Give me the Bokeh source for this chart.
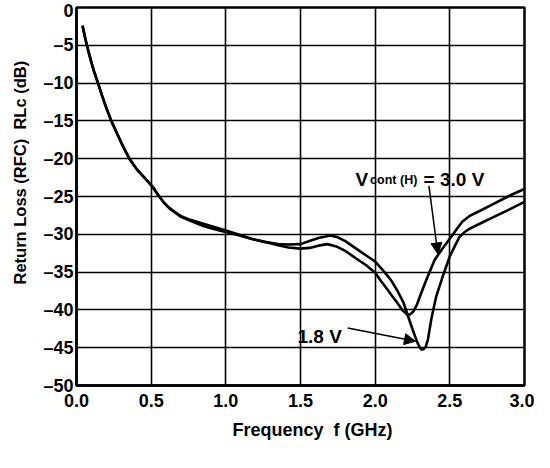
from bokeh.plotting import figure
from bokeh.models import FixedTicker, Range1d, Label, Arrow, NormalHead, Title
from bokeh.embed import file_html
from bokeh.resources import INLINE

# Vcont(H) = 3.0 V
freq_30 = [0.04, 0.06, 0.08, 0.10, 0.12, 0.144, 0.17, 0.20, 0.233, 0.27, 0.31, 0.354,
           0.40, 0.45, 0.487, 0.52, 0.55, 0.585, 0.62, 0.66, 0.70, 0.75, 0.80, 0.85,
           0.90, 0.95, 1.0, 1.08, 1.17, 1.26, 1.35, 1.42, 1.5, 1.56, 1.62, 1.68, 1.74,
           1.80, 1.88, 1.94, 2.0, 2.04, 2.082, 2.115, 2.148, 2.185, 2.213, 2.235, 2.256,
           2.28, 2.30, 2.343, 2.398, 2.45, 2.507, 2.55, 2.585, 2.63, 2.696, 2.77, 2.85,
           2.92, 3.0]
rl_30 = [-2.4, -4.2, -5.8, -7.3, -8.6, -10.0, -11.6, -13.3, -15.0, -16.6, -18.3, -20.0,
         -21.3, -22.4, -23.2, -24.0, -24.9, -25.8, -26.5, -27.1, -27.6, -28.0, -28.3, -28.6,
         -28.9, -29.2, -29.5, -30.0, -30.6, -31.0, -31.45, -31.75, -31.9, -31.8, -31.5, -31.3, -31.6,
         -32.2, -33.3, -34.1, -35.1, -36.2, -37.3, -38.2, -39.05, -40.1, -40.6, -40.6, -40.2,
         -39.3, -38.2, -36.0, -33.4, -31.9, -30.4, -29.2, -28.3, -27.6, -26.95, -26.2, -25.4,
         -24.7, -24.0]

# 1.8 V
freq_18 = [0.04, 0.06, 0.08, 0.10, 0.12, 0.144, 0.17, 0.20, 0.233, 0.27, 0.31, 0.354,
           0.40, 0.45, 0.487, 0.52, 0.55, 0.585, 0.62, 0.66, 0.70, 0.75, 0.80, 0.85,
           0.90, 0.95, 1.0, 1.08, 1.17, 1.26, 1.35, 1.42, 1.5, 1.56, 1.62, 1.70, 1.75,
           1.80, 1.88, 1.94, 2.0, 2.05, 2.104, 2.15, 2.19, 2.235, 2.278, 2.298, 2.311,
           2.325, 2.34, 2.354, 2.376, 2.409, 2.452, 2.50, 2.535, 2.563, 2.60, 2.629, 2.70,
           2.785, 2.89, 3.0]
rl_18 = [-2.4, -4.2, -5.8, -7.3, -8.6, -10.0, -11.6, -13.3, -15.0, -16.6, -18.3, -20.0,
         -21.3, -22.4, -23.2, -24.0, -24.9, -25.8, -26.5, -27.1, -27.7, -28.1, -28.5, -28.9,
         -29.2, -29.45, -29.7, -30.1, -30.6, -31.0, -31.3, -31.35, -31.3, -30.9, -30.5, -30.15, -30.4,
         -30.9, -32.0, -32.8, -33.6, -34.7, -36.0, -37.5, -39.05, -41.7, -44.1, -44.95, -45.25,
         -45.2, -44.8, -43.85, -41.2, -38.2, -35.6, -32.9, -31.5, -30.4, -29.7, -29.3, -28.6,
         -27.8, -26.8, -25.7]

x_ticks = [0.0, 0.5, 1.0, 1.5, 2.0, 2.5, 3.0]
x_tick_labels = ["0.0", "0.5", "1.0", "1.5", "2.0", "2.5", "3.0"]
y_ticks = [0, -5, -10, -15, -20, -25, -30, -35, -40, -45, -50]
y_tick_labels = ["0", "\u20135", "\u201310", "\u201315", "\u201320", "\u201325", "\u201330",
                 "\u201335", "\u201340", "\u201345", "\u201350"]

FONT = "Liberation Sans"
NB = "\u00a0"
x_title = "Frequency" + NB + NB + "f (GHz)"
y_title = "Return Loss (RFC)" + NB + NB + "RLc (dB)"

p = figure(width=534, height=452, x_range=Range1d(0, 3), y_range=Range1d(-50, 0),
           output_backend="svg", toolbar_location=None,
           min_border_left=72, min_border_top=7, min_border_right=10, min_border_bottom=67)

p.background_fill_color = "white"
p.border_fill_color = "white"
p.outline_line_color = "black"
p.outline_line_width = 2.5

p.xaxis.ticker = FixedTicker(ticks=x_ticks)
p.yaxis.ticker = FixedTicker(ticks=y_ticks)
p.xaxis.major_label_overrides = {t: s for t, s in zip(x_ticks, x_tick_labels)}
p.yaxis.major_label_overrides = {t: s for t, s in zip(y_ticks, y_tick_labels)}

for ax in (p.xaxis, p.yaxis):
    ax.major_tick_out = 0
    ax.major_tick_in = 0
    ax.minor_tick_out = 0
    ax.minor_tick_in = 0
    ax.axis_line_color = "black"
    ax.axis_line_width = 2.5
    ax.major_label_text_font = FONT
    ax.major_label_text_font_size = "18px"
    ax.major_label_text_font_style = "bold"
    ax.major_label_text_color = "black"

p.xaxis.major_label_standoff = 8
p.yaxis.major_label_standoff = 3

# axis titles as side titles, placed off-centre as in the original
p.add_layout(Title(text=x_title, align="left", offset=156, standoff=17,
                   text_font=FONT, text_font_size="18px", text_font_style="bold",
                   text_color="black"), "below")
p.add_layout(Title(text=y_title, align="left", offset=101, standoff=20,
                   vertical_align="top",
                   text_font=FONT, text_font_size="16.5px", text_font_style="bold",
                   text_color="black"), "left")

p.xgrid.ticker = FixedTicker(ticks=x_ticks)
p.ygrid.ticker = FixedTicker(ticks=y_ticks)
for g in (p.xgrid, p.ygrid):
    g.grid_line_color = "black"
    g.grid_line_width = 1.6
    g.grid_line_alpha = 1.0

p.line(freq_30, rl_30, line_color="black", line_width=2.6, line_join="round")
p.line(freq_18, rl_18, line_color="black", line_width=2.6, line_join="round")

# annotations
p.add_layout(Label(x=1.869, y=-22.8, text="V", text_font=FONT, text_font_size="19px",
                   text_font_style="bold", text_color="black", text_baseline="alphabetic"))
p.add_layout(Label(x=1.869, y=-22.8, x_offset=14.5, text="cont (H)", text_font=FONT,
                   text_font_size="12.5px", text_font_style="bold", text_color="black",
                   text_baseline="alphabetic"))
p.add_layout(Label(x=1.869, y=-22.8, x_offset=68, text="= 3.0 V", text_font=FONT,
                   text_font_size="19px", text_font_style="bold", text_color="black",
                   text_baseline="alphabetic"))
p.add_layout(Label(x=1.48, y=-43.5, text="1.8 V", text_font=FONT, text_font_size="19px",
                   text_font_style="bold", text_color="black", text_baseline="alphabetic"))

p.add_layout(Arrow(x_start=2.36, y_start=-23.6, x_end=2.42, y_end=-32.6,
                   line_color="black", line_width=1.5,
                   end=NormalHead(size=11, fill_color="black", line_color="black")))
p.add_layout(Arrow(x_start=1.816, y_start=-42.4, x_end=2.27, y_end=-44.15,
                   line_color="black", line_width=1.5,
                   end=NormalHead(size=11, fill_color="black", line_color="black")))

open("out.html", "w").write(file_html(p, INLINE))
